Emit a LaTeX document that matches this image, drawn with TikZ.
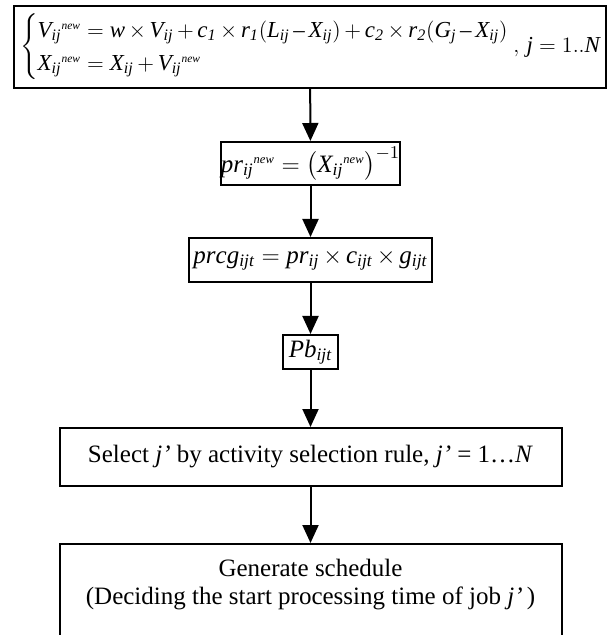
\documentclass[tikz,border=0pt]{standalone}
\usepackage{amsmath}
\usepackage{graphicx}
\usepackage{fontspec}
\setmainfont{Liberation Serif}
\usepackage{tikz}
\usetikzlibrary{arrows.meta,positioning}
% tight operators and small "new" marks, as in the figure
\newcommand{\tm}{{\,\times\,}}
\newcommand{\pl}{{\,+\,}}
\newcommand{\mn}{{\,\text{–}\,}}
\newcommand{\nw}{{}^{\scriptscriptstyle\mathit{new}}}

\begin{document}
\begin{tikzpicture}[x=0.5pt,y=-0.5pt,
		blk/.style={draw,line width=1pt,inner sep=0pt,font=\fontsize{12.5}{15}\selectfont},
		flow/.style={line width=1pt,-{Triangle[length=9pt,width=8pt]}}]
		\clip (0,0) rectangle (608,635);
		\node[blk,minimum width=296pt,minimum height=41pt,font=\fontsize{12.5}{15}\selectfont] (eqs) at (310,47) {\resizebox{290pt}{!}{$\renewcommand{\arraystretch}{1.2}\left\{\begin{array}{@{}l@{}l@{}}
				\mathit{V_{ij}}\nw & {}=\mathit{w\tm V_{ij}\pl c_1\tm r_1(L_{ij}\mn X_{ij})\pl c_2\tm r_2(G_j\mn X_{ij})}\\
				\mathit{X_{ij}}\nw & {}=\mathit{X_{ij}\pl V_{ij}}\nw
			\end{array}\right.,\, \mathit{j}=1..\mathit{N}$}};
		\node[blk,minimum width=85.5pt,minimum height=21.5pt] (pr) at (310.5,163.5) {$\mathit{pr_{ij}}\nw=\bigl(\mathit{X_{ij}}\nw\bigr)^{-1}$};
		\node[blk,minimum width=121.5pt,minimum height=22pt] (prcg) at (310.5,260) {$\mathit{prcg_{ijt}}=\mathit{pr_{ij}\tm c_{ijt}\tm g_{ijt}}$};
		\node[blk,minimum width=27.5pt,minimum height=17pt] (pb) at (310.5,352) {$\mathit{Pb_{ijt}}$};
		\node[blk,minimum width=251pt,minimum height=29pt] (sel) at (310.5,457) {Select \textit{j’} by activity selection rule, \textit{j’} = 1…\textit{N}};
		\node[blk,minimum width=251pt,minimum height=54pt,anchor=north] (gen) at (310.5,543) {};
		\node[align=center,font=\fontsize{12.5}{14}\selectfont] (gentxt) at (310.5,585) {Generate schedule\\(Deciding the start processing time of job \textit{j’}\,)};
		\draw[flow] (eqs) -- (pr);
		\draw[flow] (pr) -- (prcg);
		\draw[flow] (prcg) -- (pb);
		\draw[flow] (pb) -- (sel);
		\draw[flow] (sel) -- (gen);
	\end{tikzpicture}
\end{document}
